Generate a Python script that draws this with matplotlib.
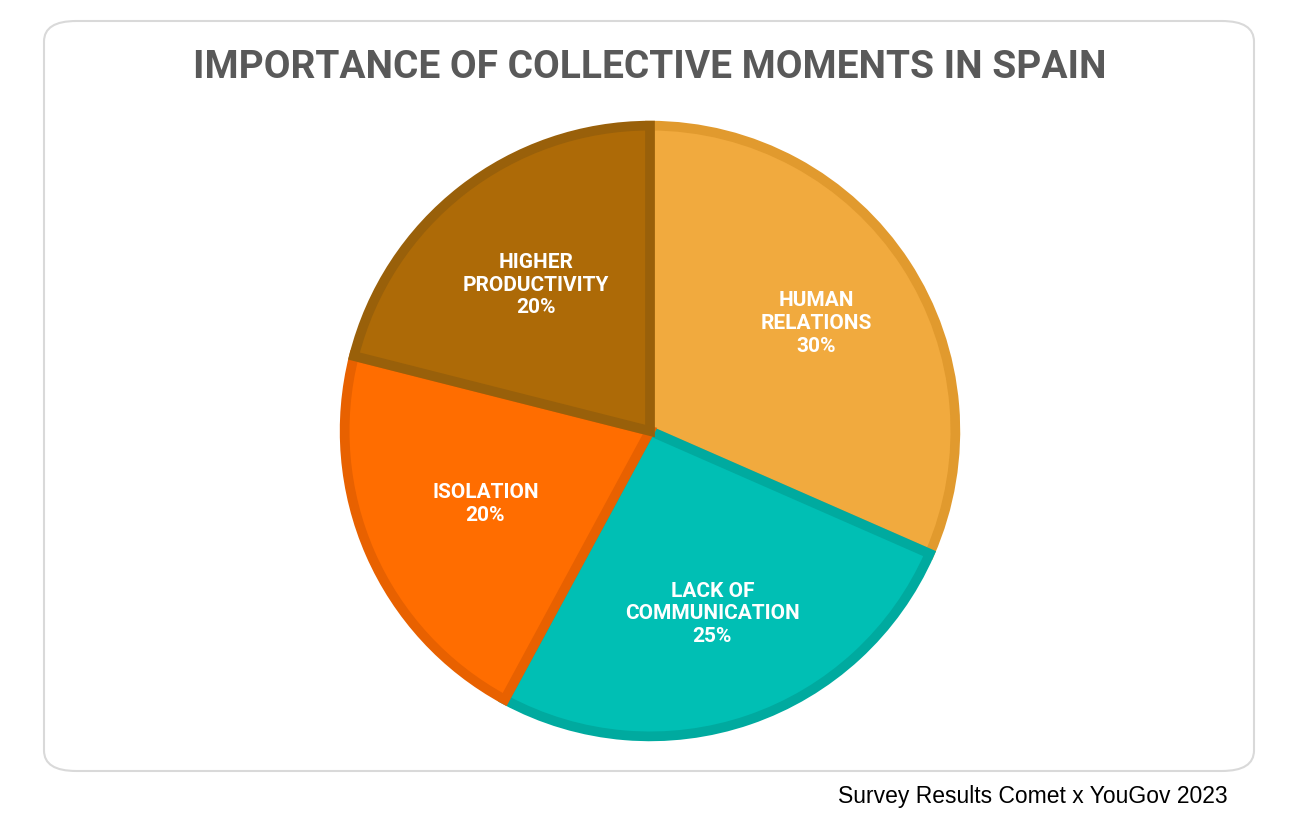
import numpy as np
import matplotlib.pyplot as plt
from matplotlib.patches import FancyBboxPatch

labels = ["HUMAN\nRELATIONS", "LACK OF\nCOMMUNICATION", "ISOLATION", "HIGHER\nPRODUCTIVITY"]
values = [30, 25, 20, 20]
colors = ["#F1AA3E", "#00BFB4", "#FF6D00", "#AD6A07"]
edges = ["#E19A2E", "#00AA9F", "#E86100", "#99600A"]

W, H = 1294, 820
fig = plt.figure(figsize=(W / 100, H / 100), dpi=100)
fig.patch.set_facecolor("white")

# rounded frame, kept behind the pie
frame = FancyBboxPatch((44 / W, 1 - 772 / H), 1210 / W, 750 / H,
                       boxstyle="round,pad=0,rounding_size=0.025",
                       transform=fig.transFigure, facecolor="white",
                       edgecolor="#D9D9D9", linewidth=1.5, zorder=-5)
fig.patches.append(frame)

fig.text(650 / W, 1 - 68 / H, "IMPORTANCE OF COLLECTIVE MOMENTS IN SPAIN",
         ha="center", va="center", fontsize=28, fontweight="bold",
         color="#595959", family="Roboto")
fig.text(1228 / W, 1 - 797 / H, "Survey Results Comet x YouGov 2023",
         ha="right", va="center", fontsize=16.5, color="black",
         family="Liberation Sans")

r = 310
ax = fig.add_axes([(650 - r) / W, (H - 432 - r) / H, 2 * r / W, 2 * r / H])
ax.set_zorder(2)
wedges, _ = ax.pie(values, colors=colors, startangle=90, counterclock=False,
                   radius=0.985, wedgeprops=dict(linewidth=0))
# darker inner border
for w, ec in zip(wedges, edges):
    w.set_edgecolor(ec)
    w.set_linewidth(7)
ax.set_xlim(-1, 1)
ax.set_ylim(-1, 1)
ax.set_aspect("equal")
ax.axis("off")

total = sum(values)
ang = 90
dists = [0.64, 0.62, 0.58, 0.6]
for lab, v, d in zip(labels, values, dists):
    span = v / total * 360
    mid = np.deg2rad(ang - span / 2)
    ax.text(d * np.cos(mid), d * np.sin(mid), f"{lab}\n{v}%", ha="center",
            va="center", color="white", fontsize=15, fontweight="bold",
            family="Roboto", linespacing=1.25)
    ang -= span

fig.savefig("out.png", dpi=100)
